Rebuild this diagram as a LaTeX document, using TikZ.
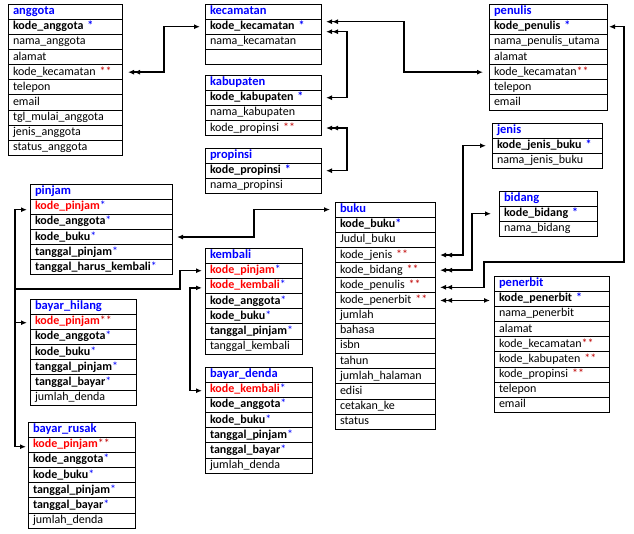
\documentclass[tikz,border=0pt]{standalone}
\usepackage{fontspec}
\setmainfont{Carlito}
\usepackage{xcolor}
\usetikzlibrary{positioning,arrows.meta}
\newcommand{\pk}{\textcolor{blue}{*}}
\newcommand{\fk}{\textcolor{red!75!black}{**}}
\newcommand{\kunci}[1]{\textcolor{red}{\textbf{#1}}}

\begin{document}
\begin{tikzpicture}[x=1pt, y=-1pt, font=\fontsize{12}{14}\selectfont,
  hdr/.style={draw, line width=0.8pt, anchor=north west, minimum height=15.15pt, inner ysep=0pt, inner xsep=5pt,
    outer sep=0pt, text height=9pt, text depth=3pt, align=left, text=blue, font=\fontsize{12.5}{14}\selectfont\bfseries},
  fld/.style={draw, line width=0.8pt, minimum height=15.15pt, inner ysep=0pt, inner xsep=5pt,
    outer sep=0pt, text height=9pt, text depth=3pt, align=left},
  rel/.style={line width=1.5pt, >={Latex[length=6pt,width=5pt]}}]
  \useasboundingbox (0,0) rectangle (634,534);
  % Table: anggota
  \node[hdr, text width=104pt] (anggota-0) at (8,4) {anggota};
  \foreach \t [count=\i, remember=\i as \j (initially 0)] in {\textbf{kode\_anggota~\pk}, nama\_anggota, alamat,
      kode\_kecamatan~\fk, telepon, email, tgl\_mulai\_anggota, jenis\_anggota, status\_anggota}
    \node[fld, text width=104pt, below=0pt of anggota-\j] (anggota-\i) {\t};
  % Table: kecamatan
  \node[hdr, text width=106pt] (kecamatan-0) at (205,4) {kecamatan};
  \foreach \t [count=\i, remember=\i as \j (initially 0)] in {\textbf{kode\_kecamatan~\pk}, nama\_kecamatan, \phantom{x}}
    \node[fld, text width=106pt, below=0pt of kecamatan-\j] (kecamatan-\i) {\t};
  % Table: kabupaten
  \node[hdr, text width=106pt] (kabupaten-0) at (205,75) {kabupaten};
  \foreach \t [count=\i, remember=\i as \j (initially 0)] in {\textbf{kode\_kabupaten~\pk}, nama\_kabupaten, kode\_propinsi~\fk}
    \node[fld, text width=106pt, below=0pt of kabupaten-\j] (kabupaten-\i) {\t};
  % Table: propinsi
  \node[hdr, text width=106pt] (propinsi-0) at (205,148) {propinsi};
  \foreach \t [count=\i, remember=\i as \j (initially 0)] in {\textbf{kode\_propinsi~\pk}, nama\_propinsi}
    \node[fld, text width=106pt, below=0pt of propinsi-\j] (propinsi-\i) {\t};
  % Table: penulis
  \node[hdr, text width=108pt] (penulis-0) at (489,4) {penulis};
  \foreach \t [count=\i, remember=\i as \j (initially 0)] in {\textbf{kode\_penulis~\pk}, nama\_penulis\_utama, alamat,
      kode\_kecamatan\fk, telepon, email}
    \node[fld, text width=108pt, below=0pt of penulis-\j] (penulis-\i) {\t};
  % Table: jenis
  \node[hdr, text width=100pt] (jenis-0) at (492,123) {jenis};
  \foreach \t [count=\i, remember=\i as \j (initially 0)] in {\textbf{kode\_jenis\_buku~\pk}, nama\_jenis\_buku}
    \node[fld, text width=100pt, below=0pt of jenis-\j] (jenis-\i) {\t};
  % Table: bidang
  \node[hdr, text width=88pt] (bidang-0) at (499,191) {bidang};
  \foreach \t [count=\i, remember=\i as \j (initially 0)] in {\textbf{kode\_bidang~\pk}, nama\_bidang}
    \node[fld, text width=88pt, below=0pt of bidang-\j] (bidang-\i) {\t};
  % Table: buku
  \node[hdr, text width=90pt] (buku-0) at (335,202) {buku};
  \foreach \t [count=\i, remember=\i as \j (initially 0)] in {\textbf{kode\_buku\pk}, Judul\_buku, kode\_jenis~\fk,
      kode\_bidang~\fk, kode\_penulis~\fk, kode\_penerbit~\fk, jumlah, bahasa, isbn, tahun, jumlah\_halaman,
      edisi, cetakan\_ke, status}
    \node[fld, text width=90pt, below=0pt of buku-\j] (buku-\i) {\t};
  % Table: penerbit
  \node[hdr, text width=105pt] (penerbit-0) at (494,276) {penerbit};
  \foreach \t [count=\i, remember=\i as \j (initially 0)] in {\textbf{kode\_penerbit~\pk}, nama\_penerbit, alamat,
      kode\_kecamatan\fk, kode\_kabupaten~\fk, kode\_propinsi~\fk, telepon, email}
    \node[fld, text width=105pt, below=0pt of penerbit-\j] (penerbit-\i) {\t};
  % Table: pinjam
  \node[hdr, text width=132pt] (pinjam-0) at (30,184) {pinjam};
  \foreach \t [count=\i, remember=\i as \j (initially 0)] in {\kunci{kode\_pinjam}\pk, \textbf{kode\_anggota}\pk,
      \textbf{kode\_buku}\pk, \textbf{tanggal\_pinjam}\pk, \textbf{tanggal\_harus\_kembali}\pk}
    \node[fld, text width=132pt, below=0pt of pinjam-\j] (pinjam-\i) {\t};
  % Table: kembali
  \node[hdr, text width=87pt] (kembali-0) at (205,248) {kembali};
  \foreach \t [count=\i, remember=\i as \j (initially 0)] in {\kunci{kode\_pinjam}\pk, \kunci{kode\_kembali}\pk,
      \textbf{kode\_anggota}\pk, \textbf{kode\_buku}\pk, \textbf{tanggal\_pinjam}\pk, tanggal\_kembali}
    \node[fld, text width=87pt, below=0pt of kembali-\j] (kembali-\i) {\t};
  % Table: bayar_hilang
  \node[hdr, text width=96pt] (hilang-0) at (30,299) {bayar\_hilang};
  \foreach \t [count=\i, remember=\i as \j (initially 0)] in {\kunci{kode\_pinjam}\fk, \textbf{kode\_anggota}\pk,
      \textbf{kode\_buku}\pk, \textbf{tanggal\_pinjam}\pk, \textbf{tanggal\_bayar}\pk, jumlah\_denda}
    \node[fld, text width=96pt, below=0pt of hilang-\j] (hilang-\i) {\t};
  % Table: bayar_denda
  \node[hdr, text width=97pt] (denda-0) at (205,367) {bayar\_denda};
  \foreach \t [count=\i, remember=\i as \j (initially 0)] in {\kunci{kode\_kembali}\pk, \textbf{kode\_anggota}\pk,
      \textbf{kode\_buku}\pk, \textbf{tanggal\_pinjam}\pk, \textbf{tanggal\_bayar}\pk, jumlah\_denda}
    \node[fld, text width=97pt, below=0pt of denda-\j] (denda-\i) {\t};
  % Table: bayar_rusak
  \node[hdr, text width=97pt] (rusak-0) at (28,422) {bayar\_rusak};
  \foreach \t [count=\i, remember=\i as \j (initially 0)] in {\kunci{kode\_pinjam}\fk, \textbf{kode\_anggota}\pk,
      \textbf{kode\_buku}\pk, \textbf{tanggal\_pinjam}\pk, \textbf{tanggal\_bayar}\pk, jumlah\_denda}
    \node[fld, text width=97pt, below=0pt of rusak-\j] (rusak-\i) {\t};
  % Relations: wilayah
  \draw[rel, <<->] ([xshift=6pt]anggota-4.east) -- ++(36,0) |- ([xshift=-5pt]kecamatan-1.west);
  \draw[rel, <<->] ([shift={(5,-5)}]kecamatan-1.east) -- ++(78,0) |- ([xshift=-6pt]penulis-4.west);
  \draw[rel, <<->] ([shift={(5,5)}]kecamatan-1.east) -- ++(21,0) |- ([xshift=5pt]kabupaten-1.east);
  \draw[rel, <<->] ([xshift=5pt]kabupaten-3.east) -- ++(21,0) |- ([xshift=5pt]propinsi-1.east);
  % Relations: buku
  \draw[rel, <<->] ([shift={(5,2)}]buku-5.east) -| (484,262) -| ([xshift=17pt]penulis-1.east) -- ([xshift=2pt]penulis-1.east);
  \draw[rel, <<->] ([xshift=5pt]buku-3.east) -- ++(23,0) |- ([xshift=-6pt]jenis-1.west);
  \draw[rel, <<->] ([xshift=5pt]buku-4.east) -- ++(32,0) |- ([xshift=-8pt]bidang-1.west);
  \draw[rel, <<->, shorten >=4pt] ([xshift=5pt]buku-6.east) -- (buku-6.east -| penerbit-1.west);
  \draw[rel, <->] ([xshift=5pt]pinjam-3.east) -- ++(77,0) |- ([xshift=-5pt]buku-0.west);
  % Relations: kode_pinjam
  \coordinate (bus) at (15,289);
  \draw[rel, ->] (bus) |- ([shift={(-3,3)}]pinjam-1.west);
  \draw[rel, ->] (bus) |- ([shift={(-3,1)}]hilang-1.west);
  \draw[rel, ->] (bus) |- ([shift={(-2,2)}]rusak-1.west);
  \draw[rel, ->] (bus) -- ++(165,0) |- ([xshift=-3pt]kembali-1.west);
  % Relations: kode_kembali
  \draw[rel, <->] ([shift={(-3,1)}]denda-1.west) -- ++(-12,0) |- ([shift={(-3,2)}]kembali-2.west);
\end{tikzpicture}
\end{document}
